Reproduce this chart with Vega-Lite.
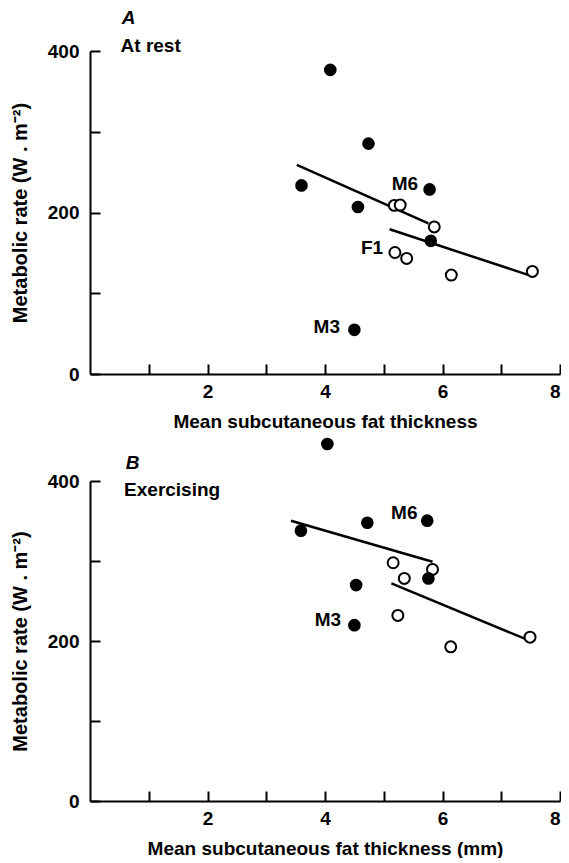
{
  "$schema": "https://vega.github.io/schema/vega-lite/v6.json",
  "padding": {"left": 10, "top": 8, "right": 0, "bottom": 0},
  "background": "white",
  "bounds": "flush",
  "spacing": 107,
  "config": {
    "view": {"stroke": null},
    "font": "Liberation Sans",
    "axis": {
      "domainColor": "black", "domainWidth": 2,
      "tickColor": "black", "tickWidth": 2, "tickSize": -10,
      "labelFont": "Liberation Sans", "labelFontSize": 19,
      "labelFontWeight": "bold", "labelColor": "black",
      "titleFont": "Liberation Sans", "titleFontSize": 19, "titleFontWeight": "bold",
      "titleColor": "black", "grid": false
    },
    "axisX": {"labelPadding": 18, "titlePadding": 11},
    "axisY": {"labelPadding": 21, "titlePadding": 17, "titleFontSize": 20}
  },
  "datasets": {
    "pts": [
      {"panel": "A", "type": "filled", "x": 4.09, "y": 376.6},
      {"panel": "A", "type": "filled", "x": 4.74, "y": 285.3},
      {"panel": "A", "type": "filled", "x": 3.60, "y": 233.5},
      {"panel": "A", "type": "filled", "x": 4.56, "y": 206.8},
      {"panel": "A", "type": "filled", "x": 5.78, "y": 228.6},
      {"panel": "A", "type": "filled", "x": 5.80, "y": 164.9},
      {"panel": "A", "type": "filled", "x": 4.50, "y": 54.7},
      {"panel": "A", "type": "open", "x": 5.18, "y": 208.8},
      {"panel": "A", "type": "open", "x": 5.28, "y": 209.2},
      {"panel": "A", "type": "open", "x": 5.86, "y": 182.1},
      {"panel": "A", "type": "open", "x": 5.19, "y": 150.5},
      {"panel": "A", "type": "open", "x": 5.39, "y": 143.1},
      {"panel": "A", "type": "open", "x": 6.15, "y": 122.5},
      {"panel": "A", "type": "open", "x": 7.53, "y": 127.0},
      {"panel": "B", "type": "filled", "x": 4.04, "y": 446.3},
      {"panel": "B", "type": "filled", "x": 4.72, "y": 347.8},
      {"panel": "B", "type": "filled", "x": 5.74, "y": 350.4},
      {"panel": "B", "type": "filled", "x": 3.59, "y": 337.9},
      {"panel": "B", "type": "filled", "x": 5.76, "y": 278.2},
      {"panel": "B", "type": "filled", "x": 4.53, "y": 269.9},
      {"panel": "B", "type": "filled", "x": 4.50, "y": 219.8},
      {"panel": "B", "type": "open", "x": 5.16, "y": 297.8},
      {"panel": "B", "type": "open", "x": 5.83, "y": 289.5},
      {"panel": "B", "type": "open", "x": 5.35, "y": 278.2},
      {"panel": "B", "type": "open", "x": 5.24, "y": 232.0},
      {"panel": "B", "type": "open", "x": 6.14, "y": 192.7},
      {"panel": "B", "type": "open", "x": 7.49, "y": 204.8}
    ],
    "lines": [
      {"panel": "A", "line": "A1", "x": 3.52, "y": 259.0},
      {"panel": "A", "line": "A1", "x": 5.76, "y": 186.6},
      {"panel": "A", "line": "A2", "x": 5.10, "y": 179.2},
      {"panel": "A", "line": "A2", "x": 7.47, "y": 122.5},
      {"panel": "B", "line": "B1", "x": 3.42, "y": 350.4},
      {"panel": "B", "line": "B1", "x": 5.83, "y": 299.1},
      {"panel": "B", "line": "B2", "x": 5.13, "y": 272.0},
      {"panel": "B", "line": "B2", "x": 7.42, "y": 202.3}
    ],
    "labels": [
      {"panel": "A", "x": 5.36, "y": 235.6, "text": "M6"},
      {"panel": "A", "x": 4.80, "y": 156.6, "text": "F1"},
      {"panel": "A", "x": 4.03, "y": 58.0, "text": "M3"},
      {"panel": "B", "x": 5.35, "y": 359.5, "text": "M6"},
      {"panel": "B", "x": 4.05, "y": 226.0, "text": "M3"}
    ],
    "heads": [
      {"panel": "A", "x": 0.54, "y": 441, "text": "A", "kind": "letter"},
      {"panel": "A", "x": 0.52, "y": 406, "text": "At rest", "kind": "sub"},
      {"panel": "B", "x": 0.61, "y": 422, "text": "B", "kind": "letter"},
      {"panel": "B", "x": 0.58, "y": 389, "text": "Exercising", "kind": "sub"}
    ]
  },
  "vconcat": [
    {
      "width": 470, "height": 323,
      "layer": [
        {
          "data": {"name": "lines"},
          "transform": [{"filter": "datum.panel == 'A'"}],
          "mark": {"type": "line", "color": "black", "strokeWidth": 2.5},
          "encoding": {
            "x": {"field": "x", "type": "quantitative", "scale": {"domain": [0, 8]},
              "axis": {"values": [1,2,3,4,5,6,7,8], "format": "d", "labelExpr": "datum.value % 2 == 0 ? datum.label : ''", "title": "Mean subcutaneous fat thickness"}},
            "y": {"field": "y", "type": "quantitative", "scale": {"domain": [0, 400]},
              "axis": {"values": [0,100,200,300,400], "labelExpr": "datum.value % 200 == 0 ? datum.label : ''", "title": "Metabolic rate (W . m⁻²)"}},
            "detail": {"field": "line"}
          }
        },
        {
          "data": {"name": "pts"},
          "transform": [{"filter": "datum.panel == 'A' && datum.type == 'open'"}],
          "mark": {"type": "point", "shape": "circle", "filled": false, "fill": "white", "stroke": "black", "strokeWidth": 2, "size": 120, "opacity": 1},
          "encoding": {"x": {"field": "x", "type": "quantitative"}, "y": {"field": "y", "type": "quantitative"}}
        },
        {
          "data": {"name": "pts"},
          "transform": [{"filter": "datum.panel == 'A' && datum.type == 'filled'"}],
          "mark": {"type": "circle", "color": "black", "size": 160, "opacity": 1},
          "encoding": {"x": {"field": "x", "type": "quantitative"}, "y": {"field": "y", "type": "quantitative"}}
        },
        {
          "data": {"name": "labels"},
          "transform": [{"filter": "datum.panel == 'A'"}],
          "mark": {"type": "text", "fontSize": 19, "fontWeight": "bold", "color": "black", "align": "center", "baseline": "middle"},
          "encoding": {"x": {"field": "x", "type": "quantitative"}, "y": {"field": "y", "type": "quantitative"}, "text": {"field": "text"}}
        },
        {
          "data": {"name": "heads"},
          "transform": [{"filter": "datum.panel == 'A' && datum.kind == 'letter'"}],
          "mark": {"type": "text", "fontSize": 19, "fontWeight": "bold", "fontStyle": "italic", "color": "black", "align": "left", "baseline": "middle"},
          "encoding": {"x": {"field": "x", "type": "quantitative"}, "y": {"field": "y", "type": "quantitative"}, "text": {"field": "text"}}
        },
        {
          "data": {"name": "heads"},
          "transform": [{"filter": "datum.panel == 'A' && datum.kind == 'sub'"}],
          "mark": {"type": "text", "fontSize": 19, "fontWeight": "bold", "color": "black", "align": "left", "baseline": "middle"},
          "encoding": {"x": {"field": "x", "type": "quantitative"}, "y": {"field": "y", "type": "quantitative"}, "text": {"field": "text"}}
        }
      ]
    },
    {
      "width": 470, "height": 320,
      "layer": [
        {
          "data": {"name": "lines"},
          "transform": [{"filter": "datum.panel == 'B'"}],
          "mark": {"type": "line", "color": "black", "strokeWidth": 2.5},
          "encoding": {
            "x": {"field": "x", "type": "quantitative", "scale": {"domain": [0, 8]},
              "axis": {"values": [1,2,3,4,5,6,7,8], "format": "d", "labelExpr": "datum.value % 2 == 0 ? datum.label : ''", "title": "Mean subcutaneous fat thickness (mm)"}},
            "y": {"field": "y", "type": "quantitative", "scale": {"domain": [0, 400]},
              "axis": {"values": [0,100,200,300,400], "labelExpr": "datum.value % 200 == 0 ? datum.label : ''", "title": "Metabolic rate (W . m⁻²)"}},
            "detail": {"field": "line"}
          }
        },
        {
          "data": {"name": "pts"},
          "transform": [{"filter": "datum.panel == 'B' && datum.type == 'open'"}],
          "mark": {"type": "point", "shape": "circle", "filled": false, "fill": "white", "stroke": "black", "strokeWidth": 2, "size": 120, "opacity": 1},
          "encoding": {"x": {"field": "x", "type": "quantitative"}, "y": {"field": "y", "type": "quantitative"}}
        },
        {
          "data": {"name": "pts"},
          "transform": [{"filter": "datum.panel == 'B' && datum.type == 'filled'"}],
          "mark": {"type": "circle", "color": "black", "size": 160, "opacity": 1},
          "encoding": {"x": {"field": "x", "type": "quantitative"}, "y": {"field": "y", "type": "quantitative"}}
        },
        {
          "data": {"name": "labels"},
          "transform": [{"filter": "datum.panel == 'B'"}],
          "mark": {"type": "text", "fontSize": 19, "fontWeight": "bold", "color": "black", "align": "center", "baseline": "middle"},
          "encoding": {"x": {"field": "x", "type": "quantitative"}, "y": {"field": "y", "type": "quantitative"}, "text": {"field": "text"}}
        },
        {
          "data": {"name": "heads"},
          "transform": [{"filter": "datum.panel == 'B' && datum.kind == 'letter'"}],
          "mark": {"type": "text", "fontSize": 19, "fontWeight": "bold", "fontStyle": "italic", "color": "black", "align": "left", "baseline": "middle"},
          "encoding": {"x": {"field": "x", "type": "quantitative"}, "y": {"field": "y", "type": "quantitative"}, "text": {"field": "text"}}
        },
        {
          "data": {"name": "heads"},
          "transform": [{"filter": "datum.panel == 'B' && datum.kind == 'sub'"}],
          "mark": {"type": "text", "fontSize": 19, "fontWeight": "bold", "color": "black", "align": "left", "baseline": "middle"},
          "encoding": {"x": {"field": "x", "type": "quantitative"}, "y": {"field": "y", "type": "quantitative"}, "text": {"field": "text"}}
        }
      ]
    }
  ]
}
